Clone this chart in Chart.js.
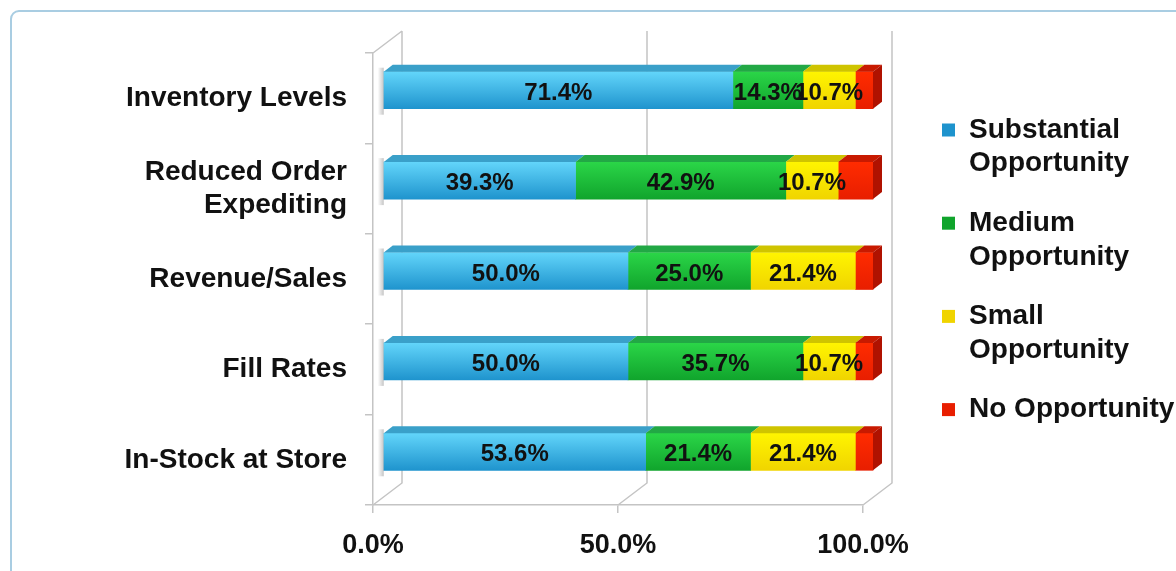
<!DOCTYPE html>
<html>
<head>
<meta charset="utf-8">
<script src="https://cdn.jsdelivr.net/npm/chart.js@4.4.0/dist/chart.umd.min.js"></script>
<style>
  html, body { margin: 0; padding: 0; background: #fff; overflow: hidden; }
  canvas { display: block; }
</style>
</head>
<body>
<canvas id="oppChart" width="1176" height="571"></canvas>
<script>
var categories = ['Inventory Levels', ['Reduced Order', 'Expediting'], 'Revenue/Sales', 'Fill Rates', 'In-Stock at Store'];
var substantial = [71.4, 39.3, 50.0, 50.0, 53.6];
var medium = [14.3, 42.9, 25.0, 35.7, 21.4];
var small = [10.7, 10.7, 21.4, 10.7, 21.4];
var noOpp = [3.6, 7.1, 3.6, 3.6, 3.6];
var seriesNames = [['Substantial', 'Opportunity'], ['Medium', 'Opportunity'], ['Small', 'Opportunity'], ['No Opportunity']];
var xTicks = [0, 50, 100];

// face colours: [front top, front bottom, top face, flat/legend]
var palette = [
  ['#63d6fb', '#1e93cd', '#3aa0c9', '#35a9dc'],
  ['#2bd648', '#10a42c', '#22a845', '#1fbe3c'],
  ['#fff500', '#f0d400', '#cfc400', '#f5e200'],
  ['#ff2c00', '#e81e00', '#c81a00', '#f02400']
];

var FONT = '"Liberation Sans", Arial, Helvetica, sans-serif';
var WALL_DX = 29, WALL_DY = -22;   // depth of the back wall
var BAR_DX = 10, BAR_DY = -8;      // bars sit part way into the box
var FACE_DX = 9, FACE_DY = -7;     // thickness of each bar's top / end face

Chart.defaults.font.family = FONT;

function faceFill(c) {
  return function (ctx) {
    var chart = ctx.chart;
    var ys = chart.scales && chart.scales.y;
    if (ctx.type !== 'data' || !ys) return c[3];
    var yc = ys.getPixelForValue(ctx.dataIndex);
    if (!isFinite(yc)) return c[3];
    var g = chart.ctx.createLinearGradient(0, yc - 19, 0, yc + 19);
    g.addColorStop(0, c[0]);
    g.addColorStop(1, c[1]);
    return g;
  };
}

var box3d = {
  id: 'box3d',
  beforeDraw: function (chart) {
    var ctx = chart.ctx;
    ctx.save();
    ctx.strokeStyle = '#a9cde2';
    ctx.lineWidth = 2;
    ctx.beginPath();
    ctx.roundRect(11, 11, 1200, 600, 8);
    ctx.stroke();
    ctx.restore();
  },
  beforeDatasetsDraw: function (chart) {
    var ctx = chart.ctx, xs = chart.scales.x, a = chart.chartArea;
    ctx.save();
    ctx.strokeStyle = '#c4c4c4';
    ctx.lineWidth = 1.5;
    ctx.beginPath();
    xTicks.forEach(function (v) {
      var px = xs.getPixelForValue(v);
      ctx.moveTo(px + WALL_DX, a.top + WALL_DY);
      ctx.lineTo(px + WALL_DX, a.bottom + WALL_DY);
      ctx.lineTo(px, a.bottom);
    });
    ctx.moveTo(a.left, a.top);
    ctx.lineTo(a.left + WALL_DX, a.top + WALL_DY);
    ctx.stroke();
    ctx.restore();
    // bars are drawn shifted back into the box
    ctx.save();
    ctx.translate(BAR_DX, BAR_DY);
  },
  afterDatasetsDraw: function (chart) {
    var ctx = chart.ctx;
    var n = chart.data.datasets.length;
    // soft shadow where each bar meets the side wall
    chart.getDatasetMeta(0).data.forEach(function (el) {
      var top = el.y - el.height / 2;
      var g = ctx.createLinearGradient(el.base - 6, 0, el.base, 0);
      g.addColorStop(0, 'rgba(150,150,150,0)');
      g.addColorStop(1, 'rgba(150,150,150,0.55)');
      ctx.fillStyle = g;
      ctx.fillRect(el.base - 6, top + FACE_DY + 3, 6, el.height + 10);
    });
    for (var d = 0; d < n; d++) {
      var els = chart.getDatasetMeta(d).data;
      els.forEach(function (el) {
        var top = el.y - el.height / 2;
        ctx.fillStyle = palette[d][2];
        ctx.beginPath();
        ctx.moveTo(el.base, top);
        ctx.lineTo(el.x, top);
        ctx.lineTo(el.x + FACE_DX, top + FACE_DY);
        ctx.lineTo(el.base + FACE_DX, top + FACE_DY);
        ctx.closePath();
        ctx.fill();
        if (d === n - 1) {
          ctx.fillStyle = '#b01200';
          ctx.beginPath();
          ctx.moveTo(el.x, top);
          ctx.lineTo(el.x + FACE_DX, top + FACE_DY);
          ctx.lineTo(el.x + FACE_DX, top + el.height + FACE_DY);
          ctx.lineTo(el.x, top + el.height);
          ctx.closePath();
          ctx.fill();
        }
      });
    }
    // value labels for the first three series
    ctx.font = 'bold 24px ' + FONT;
    ctx.fillStyle = '#111';
    ctx.textAlign = 'center';
    ctx.textBaseline = 'middle';
    for (var i = 0; i < n - 1; i++) {
      var ds = chart.data.datasets[i];
      chart.getDatasetMeta(i).data.forEach(function (el, j) {
        ctx.fillText(ds.data[j].toFixed(1) + '%', (el.x + el.base) / 2, el.y + 3);
      });
    }
    ctx.restore();
  }
};

var series = [substantial, medium, small, noOpp];

new Chart(document.getElementById('oppChart'), {
  type: 'bar',
  plugins: [box3d],
  data: {
    labels: categories,
    datasets: series.map(function (vals, i) {
      return {
        label: seriesNames[i],
        data: vals,
        backgroundColor: faceFill(palette[i]),
        borderWidth: 0,
        barThickness: 37,
        clip: false
      };
    })
  },
  options: {
    indexAxis: 'y',
    responsive: false,
    animation: false,
    layout: { padding: 0 },
    scales: {
      x: {
        stacked: true,
        min: 0,
        max: 100,
        afterBuildTicks: function (s) { s.ticks = xTicks.map(function (v) { return { value: v }; }); },
        afterFit: function (s) { s.height = 66; },
        grid: { drawOnChartArea: false, tickLength: 8, color: '#c4c4c4', lineWidth: 1.5 },
        border: { color: '#c4c4c4', width: 1.5 },
        ticks: {
          color: '#111',
          padding: 16,
          maxRotation: 0,
          font: { size: 27, weight: 'bold' },
          callback: function (v) { return Number(v).toFixed(1) + '%'; }
        }
      },
      y: {
        stacked: true,
        afterFit: function (s) { s.width = 373; },
        grid: { drawOnChartArea: false, tickLength: 8, color: '#c4c4c4', lineWidth: 1.5 },
        border: { color: '#c4c4c4', width: 1.5 },
        ticks: { color: '#111', padding: 18, font: { size: 28, weight: 'bold' } }
      },
      // spacers keeping the plot box clear of the top edge and the legend
      padTop: {
        type: 'linear', position: 'top',
        grid: { display: false }, border: { display: false }, ticks: { display: false },
        afterFit: function (s) { s.height = 53; }
      },
      padRight: {
        type: 'linear', position: 'right',
        grid: { display: false }, border: { display: false }, ticks: { display: false },
        afterFit: function (s) { s.width = 53; }
      }
    },
    plugins: {
      tooltip: { enabled: false },
      legend: {
        position: 'right',
        align: 'start',
        maxWidth: 260,
        title: { display: true, text: ' ', font: { size: 10 }, padding: { top: 78, bottom: 0 } },
        labels: {
          boxWidth: 13,
          boxHeight: 13,
          padding: 26,
          color: '#111',
          font: { size: 28, weight: 'bold' }
        }
      }
    }
  }
});
</script>
</body>
</html>
